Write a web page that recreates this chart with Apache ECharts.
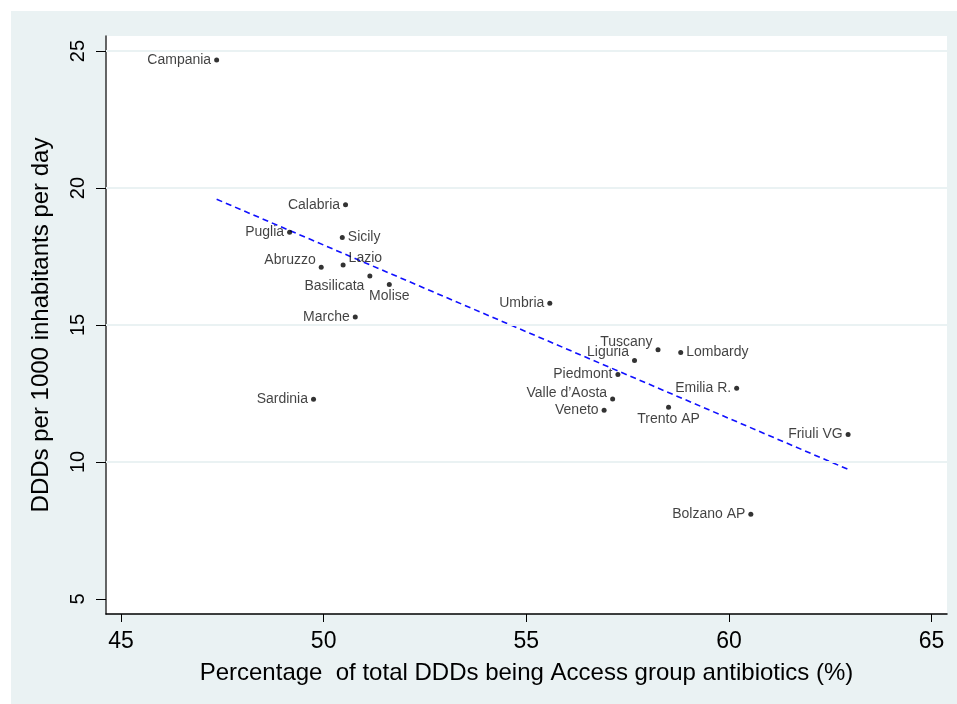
<!DOCTYPE html>
<html>
<head>
<meta charset="utf-8">
<script src="https://cdn.jsdelivr.net/npm/echarts@6/dist/echarts.min.js"></script>
<style>
html,body{margin:0;padding:0;background:#ffffff;}
#chart{width:957px;height:704px;}
</style>
</head>
<body>
<div id="chart"></div>
<script>
// ---- data ----
var regions = ['Campania','Calabria','Puglia','Sicily','Abruzzo','Lazio','Basilicata','Molise','Marche','Umbria','Sardinia','Tuscany','Lombardy','Liguria','Piedmont','Emilia R.','Valle d\u2019Aosta','Veneto','Trento AP','Friuli VG','Bolzano AP'];
var accessPct = [47.36, 50.54, 49.16, 50.46, 49.94, 50.48, 51.14, 51.62, 50.78, 55.58, 49.75, 58.25, 58.81, 57.67, 57.26, 60.19, 57.13, 56.92, 58.51, 62.94, 60.54];
var dddPerDay = [24.67, 19.39, 18.39, 18.19, 17.11, 17.19, 16.79, 16.48, 15.29, 15.79, 12.29, 14.10, 14.00, 13.70, 13.19, 12.69, 12.30, 11.89, 12.00, 11.00, 8.09];
var fitX = [47.36, 62.94];
var fitY = [19.59, 9.73];
var xTicks = [45, 50, 55, 60, 65];
var yTicks = [5, 10, 15, 20, 25];
var yGridValues = [10, 15, 20, 25];

// ---- label placement (style only) ----
var labelPlacement = {
  'Sicily': {position: 'right'},
  'Lombardy': {position: 'right'},
  'Lazio': {position: 'right', offset: [0, -7]},
  'Abruzzo': {position: 'left', offset: [0, -7]},
  'Tuscany': {position: 'left', offset: [0, -8]},
  'Liguria': {position: 'left', offset: [0, -8]},
  'Valle d\u2019Aosta': {position: 'left', offset: [0, -6]},
  'Basilicata': {position: 'left', offset: [0, 10]},
  'Molise': {position: 'bottom', distance: 2},
  'Trento AP': {position: 'bottom', distance: 2}
};

var FONT = '"Liberation Sans", Arial, Helvetica, sans-serif';
var BG = '#eaf2f3';

var points = regions.map(function (name, i) {
  var p = labelPlacement[name] || {position: 'left'};
  var lab = {show: true, position: p.position, distance: p.distance != null ? p.distance : 3};
  if (p.offset) lab.offset = p.offset;
  return {name: name, value: [accessPct[i], dddPerDay[i]], label: lab};
});

var chart = echarts.init(document.getElementById('chart'), null, {renderer: 'canvas'});
chart.setOption({
  backgroundColor: '#ffffff',
  animation: false,
  textStyle: {fontFamily: FONT},
  graphic: [{
    type: 'rect', left: 11, top: 11, z: -10,
    shape: {width: 946, height: 693},
    style: {fill: BG}
  }],
  grid: {
    left: 106, right: 10, top: 36, bottom: 90,
    show: true, backgroundColor: '#ffffff', borderWidth: 0
  },
  xAxis: {
    type: 'value', min: 44.63, max: 65.38,
    name: 'Percentage  of total DDDs being Access group antibiotics (%)',
    nameLocation: 'middle', nameGap: 47,
    nameTextStyle: {fontSize: 24, color: '#000', fontFamily: FONT},
    axisLine: {show: true, onZero: false, lineStyle: {color: '#000', width: 1.5}},
    axisTick: {show: true, customValues: xTicks, length: 8, lineStyle: {color: '#000', width: 1}},
    axisLabel: {customValues: xTicks, fontSize: 23, color: '#000', margin: 16, fontFamily: FONT},
    splitLine: {show: false}
  },
  yAxis: {
    type: 'value', min: 4.45, max: 25.55,
    name: 'DDDs per 1000 inhabitants per day',
    nameLocation: 'middle', nameGap: 53,
    nameTextStyle: {fontSize: 24, color: '#000', fontFamily: FONT},
    axisLine: {show: true, onZero: false, lineStyle: {color: '#333', width: 1.5}},
    axisTick: {show: true, customValues: yTicks, length: 10, lineStyle: {color: '#000', width: 1}},
    axisLabel: {customValues: yTicks, fontSize: 20, color: '#000', margin: 18, rotate: 90, fontFamily: FONT},
    splitLine: {show: false}
  },
  series: [
    {
      type: 'scatter',
      symbol: 'circle', symbolSize: 5,
      itemStyle: {color: '#000'},
      label: {color: '#111', fontSize: 14, fontFamily: FONT, formatter: '{b}'},
      data: points,
      z: 5,
      markLine: {
        silent: true, symbol: 'none', animation: false,
        label: {show: false},
        lineStyle: {color: BG, width: 2, type: 'solid'},
        data: yGridValues.map(function (v) { return {yAxis: v}; })
      }
    },
    {
      type: 'line',
      data: fitX.map(function (x, i) { return [x, fitY[i]]; }),
      symbol: 'none',
      lineStyle: {color: '#1010ff', width: 1.6, type: [6, 4]},
      z: 4
    }
  ]
});
</script>
</body>
</html>
